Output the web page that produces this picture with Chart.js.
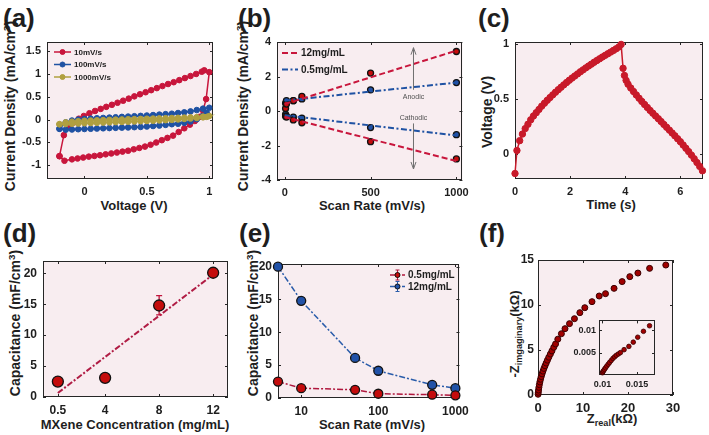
<!DOCTYPE html>
<html>
<head>
<meta charset="utf-8">
<script src="https://cdn.jsdelivr.net/npm/chart.js@4.4.1/dist/chart.umd.min.js"></script>
<style>
  body { margin: 0; width: 709px; height: 435px; overflow: hidden; position: relative; background: #fff;
         font-family: "Liberation Sans", Arial, sans-serif; font-weight: bold; color: #1e1e1e; }
  canvas { position: absolute; }
  .pl { position: absolute; font-size: 26px; line-height: 1; }
  .xt, .yt { position: absolute; white-space: nowrap; line-height: 1; }
  .xt { font-size: 13px; transform: translate(-50%, -50%); }
  .yt { font-size: 14px; transform: translate(-50%, -50%) rotate(-90deg); }
  sup { font-size: 70%; vertical-align: 0.5em; line-height: 0; }
  sub { font-size: 70%; vertical-align: -0.35em; line-height: 0; }
</style>
</head>
<body>
<div class="pl" style="left:3px;top:5px">(a)</div>
<div class="pl" style="left:238px;top:5px">(b)</div>
<div class="pl" style="left:478px;top:5px">(c)</div>
<div class="pl" style="left:3px;top:220px">(d)</div>
<div class="pl" style="left:239px;top:220px">(e)</div>
<div class="pl" style="left:479px;top:220px">(f)</div>

<div class="yt" style="left:10px;top:106px">Current Density (mA/cm<sup>3</sup>)</div>
<div class="xt" style="left:134px;top:205px">Voltage (V)</div>
<div class="yt" style="left:243px;top:106px">Current Density (mA/cm<sup>3</sup>)</div>
<div class="xt" style="left:372px;top:205px">Scan Rate (mV/s)</div>
<div class="yt" style="left:487px;top:112px">Voltage (V)</div>
<div class="xt" style="left:611px;top:204px">Time (s)</div>
<div class="yt" style="left:15px;top:323px">Capacitance (mF/cm<sup>3</sup>)</div>
<div class="xt" style="left:135px;top:424px">MXene Concentration (mg/mL)</div>
<div class="yt" style="left:253px;top:323px">Capacitance (mF/cm<sup>3</sup>)</div>
<div class="xt" style="left:372px;top:424px">Scan Rate (mV/s)</div>
<div class="yt" style="left:514px;top:334px;font-size:13px">-Z<sub>imgaginary</sub>(kΩ)</div>
<div class="xt" style="left:612px;top:418px">Z<sub>real</sub>(kΩ)</div>

<script>
// (a) cyclic voltammetry loops
const cv10V = [-0.2, -0.165, -0.125, -0.085, -0.045, -0.005, 0.04, 0.085, 0.13, 0.175, 0.22, 0.265, 0.31, 0.355, 0.4, 0.445, 0.49, 0.535, 0.58, 0.625, 0.67, 0.715, 0.76, 0.805, 0.85, 0.895, 0.94, 0.96, 1.0,
  0.975, 0.95, 0.92, 0.885, 0.845, 0.8, 0.755, 0.71, 0.665, 0.62, 0.575, 0.53, 0.485, 0.44, 0.395, 0.35, 0.305, 0.26, 0.215, 0.17, 0.125, 0.08, 0.035, -0.01, -0.055, -0.1, -0.16, -0.2];
const cv10I = [-0.8, -0.34, -0.16, -0.06, 0.02, 0.08, 0.14, 0.19, 0.235, 0.28, 0.325, 0.37, 0.415, 0.46, 0.51, 0.555, 0.6, 0.645, 0.69, 0.735, 0.78, 0.82, 0.865, 0.91, 0.955, 1.0, 1.05, 1.08, 1.04,
  0.45, 0.2, 0.06, -0.03, -0.11, -0.19, -0.27, -0.35, -0.4, -0.45, -0.5, -0.55, -0.59, -0.62, -0.65, -0.68, -0.7, -0.72, -0.74, -0.76, -0.78, -0.795, -0.81, -0.83, -0.85, -0.87, -0.9, -0.8];
const loopV = [-0.2, -0.15, -0.1, -0.05, 0, 0.05, 0.1, 0.15, 0.2, 0.25, 0.3, 0.35, 0.4, 0.45, 0.5, 0.55, 0.6, 0.65, 0.7, 0.75, 0.8, 0.85, 0.9, 0.95, 1.0,
  0.98, 0.95, 0.9, 0.85, 0.8, 0.75, 0.7, 0.65, 0.6, 0.55, 0.5, 0.45, 0.4, 0.35, 0.3, 0.25, 0.2, 0.15, 0.1, 0.05, 0, -0.05, -0.1, -0.15, -0.2];
const cv100I = [-0.2, -0.06, -0.02, 0.0, 0.015, 0.022, 0.03, 0.037, 0.045, 0.052, 0.06, 0.067, 0.075, 0.082, 0.09, 0.1, 0.11, 0.12, 0.13, 0.145, 0.16, 0.18, 0.21, 0.24, 0.26,
  0.15, 0.08, 0.01, -0.04, -0.07, -0.09, -0.1, -0.115, -0.13, -0.14, -0.15, -0.16, -0.165, -0.17, -0.175, -0.18, -0.185, -0.19, -0.195, -0.2, -0.205, -0.21, -0.215, -0.22, -0.2];
const cv1000I = [-0.1, -0.06, -0.045, -0.035, -0.025, -0.02, -0.015, -0.01, -0.005, 0, 0.004, 0.008, 0.012, 0.016, 0.02, 0.024, 0.028, 0.032, 0.036, 0.04, 0.045, 0.05, 0.055, 0.065, 0.08,
  0.06, 0.05, 0.035, 0.025, 0.015, 0.005, -0.005, -0.012, -0.018, -0.024, -0.03, -0.035, -0.04, -0.045, -0.05, -0.055, -0.06, -0.065, -0.07, -0.075, -0.08, -0.085, -0.09, -0.095, -0.1];
const ticksAx = [0, 0.5, 1];
const ticksAy = [-1, -0.5, 0, 0.5, 1, 1.5];

// (b) peak current vs scan rate
const scanRate = [5, 10, 50, 100, 500, 1000];
const anodic12 = [0.15, 0.4, 0.6, 0.85, 2.2, 3.45];
const cathodic12 = [-0.3, -0.35, -0.52, -0.68, -1.78, -2.78];
const anodic05 = [0.45, 0.6, 0.6, 0.7, 1.23, 1.65];
const cathodic05 = [-0.2, -0.3, -0.35, -0.42, -0.96, -1.37];
const fitRate = [0, 1000];
const fitAnodic12 = [0.4, 3.5];
const fitCathodic12 = [-0.35, -2.9];
const fitAnodic05 = [0.6, 1.65];
const fitCathodic05 = [-0.25, -1.42];
const ticksBx = [0, 500, 1000];
const ticksBy = [-4, -2, 0, 2, 4];

// (c) charge / discharge
const gcdT = [0, 0.07, 0.17, 0.27, 0.37, 0.47, 0.57, 0.67, 0.77, 0.87, 0.97, 1.07, 1.17, 1.27, 1.37, 1.47, 1.57, 1.67, 1.77, 1.87, 1.97, 2.07, 2.17, 2.27, 2.37, 2.47, 2.57, 2.67, 2.77, 2.87, 2.97, 3.07, 3.17, 3.27, 3.37, 3.47, 3.57, 3.67, 3.77, 3.85,
  3.92, 3.97, 4.03, 4.1, 4.2, 4.3, 4.4, 4.5, 4.6, 4.7, 4.8, 4.9, 5.0, 5.1, 5.2, 5.3, 5.4, 5.5, 5.6, 5.7, 5.8, 5.9, 6.0, 6.1, 6.2, 6.3, 6.4, 6.5, 6.6, 6.7, 6.8];
const gcdV = [-0.18, 0.03, 0.12, 0.18, 0.23, 0.27, 0.31, 0.345, 0.375, 0.405, 0.435, 0.462, 0.488, 0.513, 0.538, 0.562, 0.585, 0.607, 0.629, 0.65, 0.671, 0.691, 0.71, 0.729, 0.748, 0.766, 0.784, 0.801, 0.818, 0.835, 0.851, 0.867, 0.883, 0.898, 0.913, 0.928, 0.943, 0.958, 0.975, 0.998,
  0.78, 0.715, 0.67, 0.635, 0.6, 0.568, 0.537, 0.507, 0.478, 0.45, 0.423, 0.396, 0.37, 0.345, 0.32, 0.294, 0.268, 0.242, 0.216, 0.19, 0.164, 0.137, 0.11, 0.08, 0.05, 0.02, -0.012, -0.045, -0.08, -0.115, -0.155];
const ticksCx = [0, 2, 4, 6];
const ticksCy = [0, 0.5, 1];

// (d) capacitance vs concentration
const conc = [0.5, 4, 8, 12];
const capConc = [2.5, 3.1, 14.8, 20.1];
const capConcLo = [2.4, 3.0, 13.3, 19.9];
const capConcHi = [2.6, 3.2, 16.4, 20.3];
const fitConc = [0.5, 12];
const fitCapConc = [0.65, 19.8];
const ticksDx = [0.5, 4, 8, 12];
const ticksDy = [0, 5, 10, 15, 20];

// (e) capacitance vs scan rate
const rateE = [5, 10, 50, 100, 500, 1000];
const cap05 = [2.5, 1.5, 1.25, 0.65, 0.5, 0.4];
const cap12 = [20, 14.8, 6.1, 4.15, 2.0, 1.5];
const ticksEx = [10, 100, 1000];
const ticksEy = [0, 5, 10, 15, 20];

// (f) Nyquist plot and inset
const zReal = [0.02, 0.06, 0.12, 0.2, 0.3, 0.42, 0.56, 0.72, 0.9, 1.1, 1.32, 1.56, 1.82, 2.1, 2.4, 2.75, 3.1, 3.5, 3.9, 4.4, 5.2, 6.0, 7.0, 8.1, 9.3, 10.4, 12.0, 13.6, 15.0, 16.9, 18.7, 20.4, 22.2, 24.8, 28.4];
const zImag = [0.08, 0.3, 0.55, 0.85, 1.15, 1.45, 1.75, 2.05, 2.35, 2.65, 2.95, 3.25, 3.55, 3.87, 4.2, 4.55, 4.9, 5.3, 5.67, 6.2, 6.81, 7.37, 7.93, 8.48, 9.15, 9.7, 10.37, 11.0, 11.26, 11.85, 12.6, 13.15, 13.55, 14.07, 14.44];
const ticksFx = [0, 10, 20, 30];
const ticksFy = [0, 5, 10, 15];
const insetRe = [0.01, 0.01004, 0.01015, 0.01029, 0.01045, 0.01063, 0.01083, 0.01103, 0.01127, 0.01151, 0.01176, 0.01201, 0.0123, 0.0126, 0.01313, 0.01382, 0.01446, 0.0151, 0.01593, 0.01681];
const insetIm = [0.0005, 0.00066, 0.00095, 0.00125, 0.00162, 0.002, 0.0024, 0.0028, 0.00325, 0.0037, 0.00405, 0.0044, 0.0047, 0.005, 0.00566, 0.00639, 0.00734, 0.00844, 0.00976, 0.011];
const ticksIx = [0.01, 0.015];
const ticksIy = [0.005, 0.01];

const FONT = "'Liberation Sans', Arial, sans-serif";
const INK = '#1e1e1e';
const BG = '#f8edf0';
const RED = '#c8163c', BLUE = '#1f52a3', OLIVE = '#b0a040';
const MRED = '#c40c0c', MBLUE = '#2152a8';

const pts = (xs, ys) => xs.map((x, i) => ({ x, y: ys[i] }));

// plot background, box and inward ticks (MATLAB look)
const framePlugin = {
  id: 'frame',
  beforeDatasetsDraw(chart) {
    const { ctx, chartArea: a, scales } = chart;
    ctx.save();
    ctx.fillStyle = BG;
    ctx.fillRect(a.left, a.top, a.width, a.height);
    ctx.strokeStyle = '#262626';
    ctx.lineWidth = 1;
    ctx.strokeRect(Math.round(a.left) + 0.5, Math.round(a.top) + 0.5, Math.round(a.width) - 1, Math.round(a.height) - 1);
    ctx.beginPath();
    scales.x.ticks.forEach(t => {
      const p = Math.round(scales.x.getPixelForValue(t.value)) + 0.5;
      ctx.moveTo(p, a.bottom); ctx.lineTo(p, a.bottom - 3);
      ctx.moveTo(p, a.top); ctx.lineTo(p, a.top + 3);
    });
    scales.y.ticks.forEach(t => {
      const p = Math.round(scales.y.getPixelForValue(t.value)) + 0.5;
      ctx.moveTo(a.left, p); ctx.lineTo(a.left + 3, p);
      ctx.moveTo(a.right, p); ctx.lineTo(a.right - 3, p);
    });
    ctx.stroke();
    ctx.restore();
  }
};

// vertical error bars, drawn under the markers of their dataset
const errPlugin = {
  id: 'errbars',
  beforeDatasetDraw(chart, args) {
    const ds = chart.data.datasets[args.index];
    if (!ds.errLo) return;
    const { ctx, scales: { x, y } } = chart;
    ctx.save();
    ctx.strokeStyle = ds.errColor;
    ctx.lineWidth = 1.3;
    ctx.beginPath();
    ds.data.forEach((p, i) => {
      const px = x.getPixelForValue(p.x);
      const y1 = y.getPixelForValue(ds.errLo[i]), y2 = y.getPixelForValue(ds.errHi[i]);
      ctx.moveTo(px, y1); ctx.lineTo(px, y2);
      ctx.moveTo(px - 3, y1); ctx.lineTo(px + 3, y1);
      ctx.moveTo(px - 3, y2); ctx.lineTo(px + 3, y2);
    });
    ctx.stroke();
    ctx.restore();
  }
};

// small legend inside the axes; x/y given in page pixels
const legendPlugin = {
  id: 'miniLegend',
  afterDatasetsDraw(chart, args, o) {
    if (o.x === undefined) return;
    const ctx = chart.ctx;
    const ox = parseFloat(chart.canvas.style.left), oy = parseFloat(chart.canvas.style.top);
    let y = o.y - oy;
    chart.data.datasets.forEach(ds => {
      if (!ds.label) return;
      const x0 = o.x - ox, x1 = x0 + o.len, xm = (x0 + x1) / 2;
      ctx.save();
      ctx.strokeStyle = ds.borderColor;
      ctx.lineWidth = ds.borderWidth;
      ctx.setLineDash(ds.borderDash || []);
      ctx.beginPath(); ctx.moveTo(x0, y); ctx.lineTo(x1, y); ctx.stroke();
      ctx.setLineDash([]);
      if (o.errbar) {
        ctx.lineWidth = 1;
        ctx.beginPath();
        ctx.moveTo(xm, y - 5); ctx.lineTo(xm, y + 5);
        ctx.moveTo(xm - 2, y - 5); ctx.lineTo(xm + 2, y - 5);
        ctx.moveTo(xm - 2, y + 5); ctx.lineTo(xm + 2, y + 5);
        ctx.stroke();
      }
      if (o.marker) {
        ctx.beginPath();
        ctx.arc(xm, y, o.marker, 0, Math.PI * 2);
        ctx.fillStyle = ds.pointBackgroundColor;
        ctx.fill();
        ctx.lineWidth = 1;
        ctx.strokeStyle = ds.pointBorderColor;
        ctx.stroke();
      }
      ctx.fillStyle = INK;
      ctx.font = 'bold ' + o.size + 'px ' + FONT;
      ctx.textBaseline = 'middle';
      ctx.fillText(ds.label, x1 + 3, y + 0.5);
      ctx.restore();
      y += o.dy;
    });
  }
};

// anodic / cathodic arrows of panel (b)
const arrowPlugin = {
  id: 'arrows',
  afterDatasetsDraw(chart, args, o) {
    if (o.x === undefined) return;
    const { ctx, scales: { x, y } } = chart;
    const px = x.getPixelForValue(o.x);
    ctx.save();
    ctx.strokeStyle = '#707070';
    ctx.lineWidth = 1;
    o.segs.forEach(([top, bot], i) => {
      const y1 = y.getPixelForValue(top), y2 = y.getPixelForValue(bot);
      ctx.beginPath();
      ctx.moveTo(px, y1); ctx.lineTo(px, y2);
      const tip = i === 0 ? y1 : y2, dir = i === 0 ? 1 : -1;
      ctx.moveTo(px - 2.5, tip + dir * 7); ctx.lineTo(px, tip); ctx.lineTo(px + 2.5, tip + dir * 7);
      ctx.stroke();
    });
    ctx.fillStyle = '#505050';
    ctx.font = '7px ' + FONT;
    ctx.textAlign = 'center';
    ctx.textBaseline = 'middle';
    o.labels.forEach(([txt, v]) => ctx.fillText(txt, px, y.getPixelForValue(v)));
    ctx.restore();
  }
};

Chart.register(framePlugin, errPlugin, legendPlugin, arrowPlugin);

function axis(position, spec, fit) {
  return {
    type: spec.type || 'linear',
    position,
    min: spec.min,
    max: spec.max,
    grid: { display: false, drawTicks: false },
    border: { display: false },
    ticks: {
      autoSkip: false, maxRotation: 0, padding: spec.pad,
      color: INK, font: { family: FONT, weight: 'bold', size: spec.size },
      callback: v => String(v)
    },
    afterBuildTicks: s => { s.ticks = spec.ticks.map(v => ({ value: v })); },
    afterFit: s => { if (position === 'left') s.width = fit; else s.height = fit; }
  };
}

// box: canvas rectangle on the page; area: wanted plot rectangle on the page
function panel(box, area, xs, ys, datasets, plugins) {
  const c = document.createElement('canvas');
  c.width = box.w; c.height = box.h;
  c.style.left = box.x + 'px'; c.style.top = box.y + 'px';
  c.style.width = box.w + 'px'; c.style.height = box.h + 'px';
  document.body.appendChild(c);
  return new Chart(c.getContext('2d'), {
    type: 'scatter',
    data: { datasets },
    options: {
      responsive: false, animation: false, devicePixelRatio: 1,
      layout: { padding: { left: 0, top: area.t - box.y, right: box.x + box.w - area.r, bottom: 0 } },
      scales: {
        x: axis('bottom', xs, box.y + box.h - area.b),
        y: axis('left', ys, area.l - box.x)
      },
      plugins: Object.assign({ legend: { display: false }, tooltip: { enabled: false } }, plugins || {})
    }
  });
}

function line(xs, ys, color, o) {
  return Object.assign({
    data: pts(xs, ys), showLine: true, clip: false, borderColor: color, borderWidth: 1.5,
    pointRadius: 2.8, pointHoverRadius: 2.8, pointBackgroundColor: color, pointBorderColor: color, pointBorderWidth: 1
  }, o);
}
function dots(xs, ys, fill, r, o) {
  return Object.assign({
    data: pts(xs, ys), showLine: false, clip: false, pointRadius: r, pointHoverRadius: r,
    pointBackgroundColor: fill, pointBorderColor: '#111', pointBorderWidth: 1.3, borderColor: '#111', borderWidth: 0
  }, o);
}
function fit(xs, ys, color, dash, o) {
  return Object.assign({
    data: pts(xs, ys), showLine: true, clip: false, borderColor: color, borderWidth: 2, borderDash: dash, pointRadius: 0
  }, o);
}

// (a)
panel({ x: 0, y: 0, w: 235, h: 215 }, { l: 47, t: 42, r: 213, b: 179 },
  { min: -0.3, max: 1.03, ticks: ticksAx, size: 11, pad: 6 },
  { min: -1.3, max: 1.7, ticks: ticksAy, size: 11, pad: 6 },
  [
    line(cv10V, cv10I, RED, { label: '10mV/s', order: 3 }),
    line(loopV, cv100I, BLUE, { label: '100mV/s', order: 2 }),
    line(loopV, cv1000I, OLIVE, { label: '1000mV/s', order: 1 })
  ],
  { miniLegend: { x: 54, y: 52, len: 17, dy: 12.5, size: 8, marker: 2.5 } });

// (b)
panel({ x: 235, y: 0, w: 240, h: 215 }, { l: 277, t: 42, r: 464, b: 180 },
  { min: -45, max: 1035, ticks: ticksBx, size: 11, pad: 6 },
  { min: -4, max: 4, ticks: ticksBy, size: 11, pad: 6 },
  [
    fit(fitRate, fitAnodic12, RED, [6, 3], { label: '12mg/mL' }),
    fit(fitRate, fitAnodic05, BLUE, [6, 2.5, 2, 2.5], { label: '0.5mg/mL' }),
    fit(fitRate, fitCathodic12, RED, [6, 3]),
    fit(fitRate, fitCathodic05, BLUE, [6, 2.5, 2, 2.5]),
    dots(scanRate, anodic12, MRED, 3),
    dots(scanRate, cathodic12, MRED, 3),
    dots(scanRate, anodic05, MBLUE, 3),
    dots(scanRate, cathodic05, MBLUE, 3)
  ],
  { miniLegend: { x: 282, y: 53, len: 16, dy: 16.5, size: 10 },
    arrows: { x: 750, segs: [[3.67, 1.23], [-0.72, -3.36]], labels: [['Anodic', 0.8], ['Cathodic', -0.39]] } });

// (c)
panel({ x: 470, y: 0, w: 239, h: 215 }, { l: 515, t: 42, r: 703, b: 179 },
  { min: 0, max: 6.82, ticks: ticksCx, size: 11, pad: 6 },
  { min: -0.23, max: 1.02, ticks: ticksCy, size: 11, pad: 6 },
  [line(gcdT, gcdV, '#c81a2a', { pointRadius: 3.2, pointHoverRadius: 3.2 })]);

// (d)
panel({ x: 0, y: 215, w: 235, h: 220 }, { l: 43, t: 261, r: 228, b: 397 },
  { min: -0.6, max: 13.1, ticks: ticksDx, size: 12, pad: 6 },
  { min: 0, max: 22, ticks: ticksDy, size: 12, pad: 6 },
  [
    dots(conc, capConc, MRED, 5.5, { errLo: capConcLo, errHi: capConcHi, errColor: '#c0143c' }),
    fit(fitConc, fitCapConc, '#b01c44', [6, 2, 2, 2])
  ]);

// (e)
panel({ x: 235, y: 215, w: 240, h: 220 }, { l: 278, t: 264, r: 463, b: 398 },
  { type: 'logarithmic', min: 5, max: 1130, ticks: ticksEx, size: 12, pad: 6 },
  { min: 0, max: 20.4, ticks: ticksEy, size: 12, pad: 6 },
  [
    dots(rateE, cap05, MRED, 4.5, { label: '0.5mg/mL', showLine: true, borderColor: '#b0173d', borderWidth: 1.5, borderDash: [6, 2, 2, 2] }),
    dots(rateE, cap12, MBLUE, 4.5, { label: '12mg/mL', showLine: true, borderColor: '#2a5caa', borderWidth: 1.5, borderDash: [6, 2, 2, 2] })
  ],
  { miniLegend: { x: 390, y: 275, len: 15, dy: 11.5, size: 10, marker: 2.5, errbar: true } });

// (f)
panel({ x: 470, y: 215, w: 239, h: 220 }, { l: 538, t: 260, r: 673, b: 395 },
  { min: 0, max: 30, ticks: ticksFx, size: 13, pad: 6 },
  { min: 0, max: 15, ticks: ticksFy, size: 12, pad: 4 },
  [dots(zReal, zImag, '#a00000', 3, { pointBorderColor: '#3a0000', pointBorderWidth: 1 })]);

// (f) inset
panel({ x: 568, y: 312, w: 97, h: 80 }, { l: 599, t: 320, r: 655, b: 375 },
  { min: 0.0095, max: 0.0176, ticks: ticksIx, size: 9, pad: 4 },
  { min: 0, max: 0.0122, ticks: ticksIy, size: 9, pad: 3 },
  [dots(insetRe, insetIm, '#a00000', 2.3, { pointBorderColor: '#3a0000', pointBorderWidth: 0.8 })]);
</script>
</body>
</html>
